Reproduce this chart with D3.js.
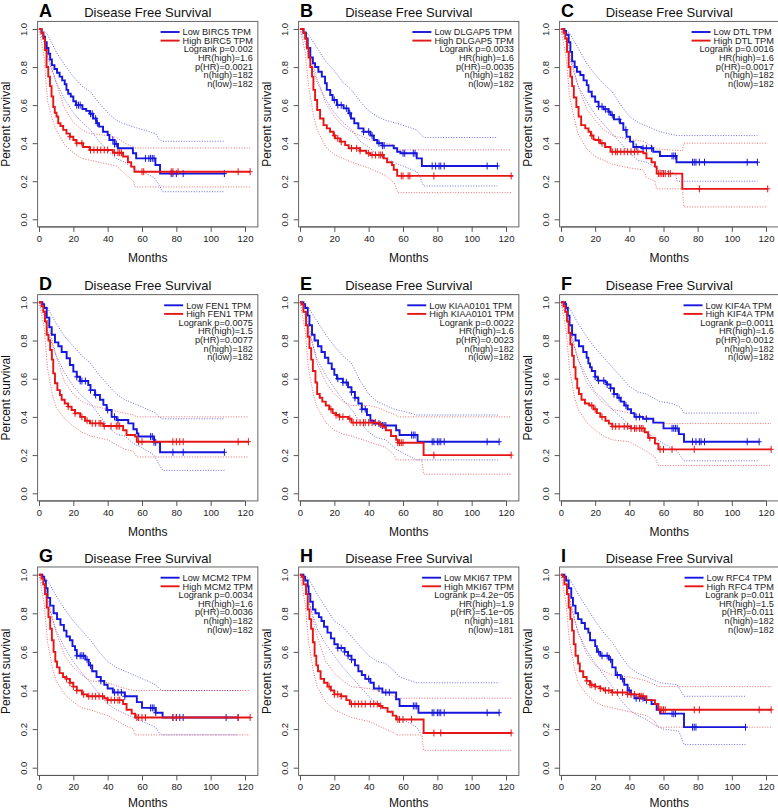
<!DOCTYPE html>
<html><head><meta charset="utf-8">
<script src="https://cdn.jsdelivr.net/npm/d3@7"></script>
<style>body{margin:0;background:#fff}svg{display:block}text{font-family:"Liberation Sans",Arial,sans-serif}</style>
</head><body><svg id="c" width="778" height="811"></svg>
<script>
const panelLetters = ["A","B","C","D","E","F","G","H","I"];
const genes = ["BIRC5","DLGAP5","DTL","FEN1","KIAA0101","KIF4A","MCM2","MKI67","RFC4"];
const logrankP = ["0.002","0.0033","0.0016","0.0075","0.0022","0.0011","0.0034","4.2e\u221205","0.011"];
const hrHigh = ["1.6","1.6","1.6","1.5","1.6","1.6","1.6","1.9","1.5"];
const pHR = ["0.0021","0.0035","0.0017","0.0077","0.0023","0.0012","0.0036","5.1e\u221205","0.011"];
const nHigh = [182,182,182,182,182,182,182,181,182];
const nLow = [182,182,182,182,182,182,182,181,182];
const xTicks = [0,20,40,60,80,100,120];
const yTicks = [0,0.2,0.4,0.6,0.8,1.0];

// Kaplan-Meier steps [month, survival] for the low-expression (blue) group
const lowCurves = [
 [[0,1],[1.5,0.98],[2.5,0.96],[3.5,0.93],[4.5,0.90],[5.5,0.87],[6.5,0.84],[7.5,0.81],[9,0.79],[10.5,0.77],[12,0.75],[13.5,0.73],[15,0.71],[16,0.68],[17,0.66],[18.5,0.645],[20,0.62],[21.5,0.60],[25.3,0.58],[27.5,0.57],[29.5,0.555],[31.5,0.53],[33.4,0.505],[35,0.487],[37.3,0.46],[40,0.443],[41,0.417],[44,0.396],[46,0.373],[54.7,0.347],[56.6,0.32],[67.8,0.285],[70.5,0.24],[108,0.24]],
 [[0,1],[2,0.98],[3.5,0.95],[4.5,0.90],[6,0.85],[7.5,0.82],[8.8,0.80],[10.7,0.775],[12.7,0.75],[14.6,0.715],[15.6,0.68],[17.6,0.653],[19,0.627],[21.5,0.60],[25.4,0.583],[28.3,0.557],[29.7,0.53],[31.6,0.505],[34,0.478],[37,0.46],[41,0.44],[43,0.417],[45,0.40],[48,0.387],[54.6,0.373],[56.6,0.355],[58.5,0.347],[68,0.32],[71,0.28],[115,0.28]],
 [[0,1],[2,0.99],[3,0.97],[4.5,0.93],[5.5,0.88],[6.5,0.83],[8,0.80],[9.3,0.775],[11.3,0.758],[13.2,0.73],[15.1,0.705],[16.1,0.67],[18,0.645],[20,0.618],[22,0.592],[24.9,0.578],[27.8,0.565],[29,0.548],[31,0.525],[34.6,0.505],[36.5,0.47],[38.4,0.434],[40.4,0.408],[42.3,0.38],[47.2,0.373],[54,0.355],[57.9,0.333],[67.6,0.30],[115,0.30]],
 [[0,1],[2,0.99],[3,0.97],[4.5,0.92],[6,0.87],[7.4,0.83],[9.3,0.79],[11.3,0.77],[13.2,0.74],[16.1,0.707],[18,0.672],[20,0.637],[22,0.61],[23.9,0.588],[28.7,0.567],[30,0.54],[32.6,0.515],[35.5,0.49],[37.5,0.463],[39.4,0.436],[42.3,0.40],[45.2,0.384],[52,0.366],[55,0.335],[57,0.314],[57.9,0.297],[67,0.267],[70.5,0.215],[108,0.215]],
 [[0,1],[2,0.99],[3,0.97],[4.5,0.93],[5.5,0.88],[7,0.83],[8.5,0.80],[10.5,0.77],[12.5,0.74],[14.5,0.71],[16.5,0.68],[18.5,0.65],[20,0.62],[21.5,0.60],[25,0.58],[28,0.555],[30,0.53],[32,0.50],[34,0.47],[36,0.44],[39,0.41],[41,0.38],[43,0.365],[48,0.355],[56,0.33],[58,0.305],[68.5,0.27],[116,0.27]],
 [[0,1],[2.5,0.99],[3,0.97],[4,0.93],[5,0.88],[6.5,0.83],[8.5,0.80],[10.5,0.77],[13,0.74],[15,0.71],[16,0.68],[17,0.66],[18,0.64],[20,0.61],[21.5,0.59],[26,0.58],[27,0.57],[29,0.55],[31,0.52],[33,0.50],[35,0.48],[37,0.46],[39,0.44],[41,0.42],[43,0.40],[48,0.39],[54,0.37],[60,0.34],[69,0.31],[72,0.27],[116,0.27]],
 [[0,1],[2,0.99],[3,0.97],[4,0.93],[5,0.88],[6.5,0.84],[8.5,0.80],[10.5,0.77],[12.5,0.74],[14.5,0.71],[16,0.68],[18,0.66],[19.5,0.63],[21,0.61],[22,0.58],[27,0.56],[29,0.53],[31,0.50],[33.5,0.47],[36,0.45],[38,0.43],[40,0.41],[43,0.39],[50,0.37],[57,0.34],[60,0.31],[68,0.285],[72,0.26],[116,0.26]],
 [[0,1],[2,0.99],[3,0.97],[4.5,0.94],[5,0.90],[6,0.86],[7.5,0.82],[9,0.80],[11,0.78],[12.5,0.76],[14,0.73],[16,0.70],[18,0.67],[20,0.64],[22,0.62],[26,0.60],[28,0.58],[30,0.56],[32,0.53],[34,0.50],[36,0.48],[38,0.46],[41,0.44],[43,0.41],[48,0.39],[56,0.355],[58,0.32],[69,0.285],[116,0.285]],
 [[0,1],[2,0.99],[3,0.97],[4.5,0.93],[6,0.88],[7,0.84],[8.5,0.80],[10,0.77],[12,0.75],[14,0.72],[16,0.70],[17,0.66],[20,0.63],[21,0.60],[23,0.58],[28,0.56],[30,0.52],[32,0.48],[35,0.46],[37,0.43],[39,0.40],[41,0.38],[43,0.36],[49,0.35],[53,0.33],[56,0.30],[58,0.28],[72,0.21],[108,0.21]]
];
// Kaplan-Meier steps for the high-expression (red) group
const highCurves = [
 [[0,1],[1.5,0.98],[2.5,0.95],[3.5,0.89],[4.4,0.80],[5.4,0.75],[6.4,0.70],[7.3,0.645],[8.3,0.59],[9.2,0.56],[10.2,0.54],[11.2,0.505],[12.5,0.49],[14.1,0.47],[16,0.45],[18,0.434],[20,0.417],[21.8,0.40],[25.7,0.38],[29.5,0.364],[43,0.35],[49,0.33],[51.8,0.30],[53.7,0.277],[55.6,0.25],[123,0.25]],
 [[0,1],[2,0.98],[3,0.95],[4,0.90],[5,0.85],[6,0.80],[7,0.75],[7.8,0.68],[8.8,0.627],[10,0.574],[11.7,0.53],[13.7,0.495],[15.6,0.478],[17.5,0.46],[19.5,0.44],[20.5,0.425],[23.4,0.408],[26.3,0.39],[28.3,0.373],[35,0.36],[38.6,0.347],[41,0.338],[48.8,0.32],[50.7,0.30],[53.6,0.285],[54.6,0.26],[56.6,0.228],[124,0.228]],
 [[0,1],[1.5,0.98],[2.5,0.95],[3.5,0.88],[4.5,0.80],[5.5,0.75],[6.5,0.70],[7.5,0.64],[9,0.59],[10.3,0.54],[11.8,0.495],[14.2,0.478],[16.1,0.46],[17.5,0.44],[19,0.42],[20,0.417],[22.9,0.40],[25.8,0.38],[29,0.355],[48.2,0.347],[50,0.32],[53,0.30],[55,0.277],[56,0.24],[71,0.16],[121,0.16]],
 [[0,1],[1.5,0.98],[2.5,0.95],[3.5,0.90],[4.5,0.83],[5.5,0.80],[6.5,0.75],[7.5,0.70],[8.3,0.628],[9.3,0.576],[10.7,0.54],[12.2,0.515],[13.2,0.49],[15,0.47],[17,0.454],[19,0.436],[21,0.419],[24,0.40],[26.8,0.38],[29.7,0.366],[37.5,0.352],[49,0.33],[51,0.305],[56,0.297],[57,0.27],[122,0.27]],
 [[0,1],[1,0.99],[2,0.95],[3.5,0.88],[4.5,0.82],[5.5,0.76],[6.5,0.70],[7.5,0.64],[9,0.58],[10,0.52],[11.5,0.50],[13,0.48],[15,0.46],[17,0.44],[19,0.42],[21,0.41],[23,0.40],[28,0.39],[30,0.37],[46,0.36],[48,0.35],[50,0.33],[53,0.30],[56,0.28],[57,0.265],[72,0.20],[123,0.20]],
 [[0,1],[1.5,0.98],[2.5,0.95],[3.5,0.90],[4.5,0.84],[5.5,0.78],[6.5,0.72],[7.5,0.66],[8.5,0.60],[9.5,0.55],[10.5,0.52],[12,0.49],[14,0.47],[16.5,0.46],[19,0.44],[21,0.42],[23,0.40],[26,0.38],[28,0.365],[30,0.35],[41,0.34],[49,0.32],[51,0.29],[55,0.26],[57,0.23],[123,0.23]],
 [[0,1],[1.5,0.98],[2.5,0.95],[3.5,0.90],[4.5,0.83],[5.5,0.78],[6.5,0.72],[7.5,0.66],[8.5,0.60],[9.5,0.55],[10.5,0.52],[12,0.49],[14,0.47],[16,0.46],[18,0.44],[20,0.42],[22,0.40],[25,0.38],[28,0.37],[38,0.36],[40,0.35],[49,0.33],[51,0.30],[54,0.28],[56,0.26],[123,0.26]],
 [[0,1],[1,0.99],[2,0.95],[3.5,0.90],[4.5,0.82],[5.5,0.77],[6.5,0.72],[7.5,0.65],[8.5,0.58],[9.5,0.53],[10.5,0.50],[12,0.46],[14,0.44],[16,0.42],[18,0.40],[20,0.38],[24,0.37],[27,0.35],[29,0.33],[46,0.32],[48,0.31],[51,0.29],[54,0.27],[56,0.25],[72,0.18],[123,0.18]],
 [[0,1],[1,0.99],[2,0.95],[3.5,0.90],[4.5,0.83],[5.5,0.77],[6.5,0.71],[7.5,0.64],[8.5,0.58],[10,0.54],[11,0.50],[13,0.47],[15,0.45],[17,0.43],[20,0.42],[23,0.41],[25,0.40],[30,0.39],[39,0.38],[46,0.37],[50,0.35],[55,0.33],[57,0.30],[123,0.30]]
];
// 95% confidence bands (dotted)
const lowUpper = [
 [[0,1],[3,0.99],[5,0.97],[10,0.88],[15,0.81],[20,0.75],[25,0.70],[30,0.67],[35,0.61],[40,0.56],[45,0.52],[50,0.50],[57,0.48],[68,0.45],[70,0.42],[72,0.41],[108,0.41]],
 [[0,1],[3,0.99],[5,0.97],[10,0.90],[15,0.83],[20,0.78],[25,0.72],[30,0.68],[35,0.62],[40,0.57],[45,0.54],[50,0.52],[58,0.50],[68,0.47],[72,0.43],[115,0.43]],
 [[0,1],[3,0.99],[5,0.98],[10,0.90],[15,0.82],[20,0.76],[25,0.71],[30,0.67],[35,0.60],[40,0.54],[45,0.51],[50,0.49],[58,0.46],[68,0.44],[115,0.44]],
 [[0,1],[3,0.99],[5,0.97],[10,0.89],[15,0.82],[20,0.77],[25,0.72],[30,0.68],[35,0.62],[40,0.57],[45,0.52],[50,0.49],[58,0.46],[68,0.42],[70,0.40],[72,0.39],[108,0.39]],
 [[0,1],[3,0.99],[5,0.97],[10,0.90],[15,0.83],[20,0.77],[25,0.72],[30,0.68],[35,0.59],[40,0.52],[45,0.48],[50,0.46],[55,0.44],[60,0.43],[68,0.41],[116,0.41]],
 [[0,1],[3,0.99],[5,0.97],[10,0.89],[15,0.82],[20,0.76],[25,0.71],[30,0.66],[35,0.61],[40,0.56],[45,0.53],[50,0.52],[58,0.48],[65,0.47],[70,0.45],[72,0.42],[116,0.42]],
 [[0,1],[3,0.99],[5,0.97],[10,0.89],[15,0.82],[20,0.76],[25,0.71],[30,0.66],[35,0.60],[40,0.55],[45,0.52],[50,0.50],[58,0.47],[68,0.43],[70,0.41],[72,0.40],[116,0.40]],
 [[0,1],[3,0.99],[5,0.98],[10,0.90],[15,0.83],[20,0.76],[25,0.73],[30,0.68],[35,0.63],[40,0.58],[45,0.55],[50,0.54],[55,0.50],[58,0.47],[68,0.44],[116,0.44]],
 [[0,1],[3,0.99],[5,0.98],[10,0.90],[15,0.83],[20,0.76],[25,0.70],[30,0.65],[35,0.58],[40,0.52],[45,0.49],[50,0.47],[58,0.44],[68,0.43],[70,0.40],[72,0.37],[108,0.37]]
];
const lowLower = [
 [[0,1],[3,0.93],[5,0.85],[10,0.72],[15,0.63],[20,0.56],[25,0.51],[30,0.47],[35,0.41],[40,0.36],[45,0.32],[50,0.30],[56,0.26],[60,0.25],[67,0.22],[70,0.18],[72,0.145],[108,0.145]],
 [[0,1],[3,0.93],[5,0.86],[10,0.72],[15,0.63],[20,0.56],[25,0.51],[30,0.47],[35,0.41],[40,0.38],[45,0.34],[50,0.32],[57,0.29],[60,0.28],[68,0.25],[70,0.22],[72,0.175],[115,0.175]],
 [[0,1],[3,0.93],[5,0.85],[10,0.70],[15,0.62],[20,0.55],[25,0.50],[30,0.45],[35,0.40],[40,0.35],[45,0.31],[50,0.30],[58,0.26],[67,0.24],[68,0.20],[115,0.20]],
 [[0,1],[3,0.93],[5,0.85],[10,0.72],[15,0.63],[20,0.56],[25,0.51],[30,0.47],[35,0.41],[40,0.35],[45,0.31],[50,0.30],[55,0.26],[60,0.24],[67,0.20],[70,0.15],[72,0.12],[108,0.12]],
 [[0,1],[3,0.93],[5,0.85],[10,0.70],[15,0.62],[20,0.55],[25,0.49],[30,0.44],[35,0.37],[40,0.32],[45,0.29],[50,0.28],[56,0.23],[60,0.21],[68,0.175],[116,0.175]],
 [[0,1],[3,0.93],[5,0.85],[10,0.70],[15,0.61],[20,0.53],[25,0.49],[30,0.44],[35,0.40],[40,0.36],[45,0.33],[50,0.32],[55,0.29],[60,0.26],[68,0.22],[72,0.17],[116,0.17]],
 [[0,1],[3,0.93],[5,0.85],[10,0.71],[15,0.62],[20,0.55],[25,0.49],[30,0.44],[35,0.38],[40,0.33],[45,0.30],[50,0.28],[55,0.26],[60,0.24],[68,0.21],[70,0.18],[72,0.17],[116,0.17]],
 [[0,1],[3,0.94],[5,0.86],[10,0.72],[15,0.64],[20,0.58],[25,0.52],[30,0.47],[35,0.42],[40,0.37],[45,0.33],[50,0.30],[55,0.27],[60,0.25],[68,0.21],[70,0.18],[116,0.18]],
 [[0,1],[3,0.94],[5,0.86],[10,0.70],[15,0.61],[20,0.54],[25,0.48],[30,0.42],[35,0.35],[40,0.30],[45,0.27],[50,0.25],[55,0.22],[60,0.20],[69,0.19],[72,0.12],[108,0.12]]
];
const highUpper = [
 [[0,1],[3,0.97],[5,0.87],[8,0.78],[10,0.72],[15,0.58],[20,0.51],[25,0.47],[30,0.45],[40,0.44],[45,0.43],[50,0.40],[55,0.38],[56,0.375],[123,0.375]],
 [[0,1],[3,0.98],[5,0.90],[8,0.80],[10,0.74],[15,0.61],[20,0.54],[25,0.49],[30,0.46],[40,0.42],[50,0.40],[55,0.39],[57,0.365],[123,0.365]],
 [[0,1],[3,0.97],[5,0.88],[8,0.77],[10,0.70],[15,0.58],[20,0.52],[25,0.47],[30,0.44],[40,0.42],[48,0.41],[50,0.40],[56,0.37],[71,0.36],[72,0.40],[121,0.40]],
 [[0,1],[3,0.98],[5,0.90],[8,0.79],[10,0.72],[15,0.58],[20,0.52],[25,0.48],[30,0.46],[40,0.44],[50,0.42],[55,0.41],[57,0.40],[122,0.40]],
 [[0,1],[3,0.97],[5,0.88],[8,0.76],[10,0.68],[15,0.58],[20,0.52],[25,0.48],[30,0.46],[40,0.46],[45,0.45],[50,0.43],[56,0.41],[57,0.40],[123,0.40]],
 [[0,1],[3,0.97],[5,0.88],[8,0.77],[10,0.70],[15,0.58],[20,0.52],[25,0.47],[30,0.44],[40,0.42],[50,0.40],[55,0.38],[57,0.365],[123,0.365]],
 [[0,1],[3,0.97],[5,0.88],[8,0.77],[10,0.70],[15,0.58],[20,0.52],[25,0.48],[30,0.45],[40,0.44],[50,0.41],[55,0.40],[123,0.40]],
 [[0,1],[3,0.97],[5,0.88],[8,0.75],[10,0.68],[15,0.55],[20,0.49],[25,0.45],[30,0.42],[40,0.41],[50,0.39],[55,0.37],[56,0.36],[123,0.36]],
 [[0,1],[3,0.97],[5,0.88],[8,0.77],[10,0.70],[15,0.59],[20,0.53],[25,0.50],[30,0.48],[40,0.47],[50,0.45],[55,0.43],[57,0.42],[123,0.42]]
];
const highLower = [
 [[0,1],[3,0.85],[5,0.62],[8,0.52],[10,0.47],[15,0.39],[20,0.35],[25,0.32],[30,0.31],[40,0.29],[45,0.28],[50,0.24],[55,0.20],[56,0.17],[123,0.17]],
 [[0,1],[3,0.88],[5,0.70],[8,0.54],[10,0.47],[15,0.38],[20,0.34],[25,0.32],[30,0.30],[40,0.27],[50,0.23],[55,0.19],[57,0.14],[123,0.14]],
 [[0,1],[3,0.85],[5,0.65],[8,0.52],[10,0.45],[15,0.37],[20,0.33],[25,0.31],[30,0.29],[40,0.27],[48,0.26],[50,0.22],[55,0.20],[56,0.16],[71,0.16],[72,0.065],[121,0.065]],
 [[0,1],[3,0.87],[5,0.65],[8,0.51],[10,0.45],[15,0.39],[20,0.35],[25,0.32],[30,0.30],[40,0.28],[50,0.23],[55,0.22],[57,0.19],[122,0.19]],
 [[0,1],[3,0.85],[5,0.65],[8,0.51],[10,0.45],[15,0.37],[20,0.33],[25,0.31],[30,0.30],[40,0.27],[50,0.24],[55,0.20],[56,0.175],[71,0.175],[72,0.10],[123,0.10]],
 [[0,1],[3,0.85],[5,0.65],[8,0.50],[10,0.44],[15,0.37],[20,0.33],[25,0.30],[30,0.28],[40,0.27],[50,0.22],[55,0.19],[57,0.145],[123,0.145]],
 [[0,1],[3,0.85],[5,0.65],[8,0.51],[10,0.45],[15,0.38],[20,0.34],[25,0.31],[30,0.30],[40,0.27],[50,0.22],[55,0.20],[56,0.17],[123,0.17]],
 [[0,1],[3,0.85],[5,0.65],[8,0.49],[10,0.42],[15,0.34],[20,0.30],[25,0.28],[30,0.26],[40,0.24],[50,0.20],[55,0.18],[56,0.17],[71,0.17],[72,0.09],[123,0.09]],
 [[0,1],[3,0.85],[5,0.65],[8,0.51],[10,0.44],[15,0.38],[20,0.34],[25,0.32],[30,0.31],[40,0.29],[50,0.27],[55,0.24],[57,0.21],[123,0.21]]
];
// censoring times (months)
const lowCensored = [
 [22,23,24,30,31,33,34,43,44,45,62,64,65,66,67,77,78,80,84,108],
 [20,22,24,27,29,37,40,42,46,48,49,60,61,66,67,77,79,81,82,84,109,115],
 [22,24,26,28,30,34,38,44,48,50,53,65,66,67,77,78,79,81,84,109,115],
 [22,24,25,27,30,33,40,44,46,65,66,67,68,78,84,108],
 [22,25,27,30,32,36,38,46,48,49,50,65,66,67,77,78,80,81,82,84,109,116],
 [20,22,25,27,29,31,34,38,44,46,50,65,66,67,68,77,79,81,82,84,109,116],
 [22,24,25,26,28,30,36,44,46,48,50,65,66,67,68,78,80,82,84,109,116],
 [22,24,26,28,30,40,46,50,52,66,67,68,77,78,80,81,82,84,109,116],
 [22,24,27,29,33,36,40,44,46,48,50,65,66,67,77,78,79,108]
];
const highCensored = [
 [18,22,25,30,32,34,36,38,40,44,46,47,48,60,61,77,78,81,116,123],
 [20,22,24,30,33,35,40,42,44,46,47,48,59,60,63,64,78,123],
 [18,22,24,30,32,33,35,37,39,41,43,45,57,58,59,60,61,63,64,81,121],
 [17,21,25,28,31,33,35,36,38,42,45,46,47,58,60,78,80,82,84,116,122],
 [18,21,23,25,29,31,33,35,37,38,40,42,44,47,57,58,59,60,78,123],
 [18,20,24,30,32,34,37,39,41,43,44,46,47,48,52,58,60,65,78,123],
 [16,18,20,22,26,29,31,33,35,37,40,42,44,46,47,57,58,60,62,78,80,116,123],
 [17,20,22,24,30,32,34,36,38,41,43,45,47,57,58,60,65,78,82,123],
 [15,17,18,20,23,26,28,30,33,36,39,41,43,46,47,48,58,59,60,61,78,81,116,123]
];

const BLUE = "#1616dc", RED = "#e61616";
const colX0 = [39, 300, 561], colX120 = [245, 506, 766];
const rowY1 = [29, 302.3, 574.7], rowY0 = [219.3, 493.3, 767.7];
const monthsOffset = [35, 35, 32];
const svg = d3.select("#c");
svg.append("defs").append("clipPath").attr("id","clipE").append("rect")
   .attr("x",267).attr("y",260).attr("width",60).attr("height",280);

function stepAt(curve, t){ let v = curve[0][1]; for (const p of curve){ if (p[0] <= t) v = p[1]; } return v; }

panelLetters.forEach((L, i) => {
  const c = i % 3, r = Math.floor(i / 3);
  const x = d3.scaleLinear().domain([0, 120]).range([colX0[c], colX120[c]]);
  const y = d3.scaleLinear().domain([0, 1]).range([rowY0[r], rowY1[r]]);
  const g = svg.append("g");
  const bx0 = x(-0.8), bx1 = x(127.5), by0 = y(1.04), by1 = y(-0.04);

  // axes
  const xa = d3.axisBottom(x).tickValues(xTicks).tickSize(5).tickPadding(3).tickFormat(d3.format("d"));
  const xg = g.append("g").attr("transform", `translate(0,${by1})`).call(xa);
  xg.select(".domain").attr("d", `M${x(0)},0H${x(120)}`).attr("stroke","#555");
  xg.selectAll(".tick line").attr("stroke","#555");
  xg.selectAll("text").attr("font-size", 9.5).attr("fill","#222").attr("font-family","Liberation Sans, Arial, sans-serif");
  const ya = d3.axisLeft(y).tickValues(yTicks).tickSize(5).tickFormat(d3.format(".1f"));
  const yg = g.append("g").attr("transform", `translate(${bx0},0)`).call(ya);
  yg.select(".domain").remove();
  yg.selectAll(".tick line").attr("stroke","#555");
  yg.selectAll("text").attr("font-size", 9.5).attr("fill","#222").attr("font-family","Liberation Sans, Arial, sans-serif")
    .attr("x", 0).attr("y", -11).attr("dy", 0).attr("text-anchor", "middle").attr("transform", "rotate(-90)");

  // box
  g.append("rect").attr("x", bx0).attr("y", by0).attr("width", bx1 - bx0).attr("height", by1 - by0)
    .attr("fill", "none").attr("stroke", "#555").attr("stroke-width", 0.9);

  // labels
  g.append("text").attr("x", (bx0 + bx1) / 2).attr("y", by1 + monthsOffset[r]).attr("text-anchor", "middle")
    .attr("font-size", 12).attr("fill", "#111").text("Months");
  const yl = g.append("text").attr("transform", `translate(${bx0 - 27.5},${(by0 + by1) / 2}) rotate(-90)`)
    .attr("text-anchor", "middle").attr("font-size", 12).attr("fill", "#111").text("Percent survival");
  g.append("text").attr("x", (bx0 + bx1) / 2).attr("y", rowY1[r] - 12).attr("text-anchor", "middle")
    .attr("font-size", 13).attr("fill", "#111").text("Disease Free Survival");
  g.append("text").attr("x", colX0[c]).attr("y", rowY1[r] - 12.3).attr("font-size", 18).attr("font-weight", "bold")
    .attr("fill", "#000").text(L);

  // confidence bands
  const lin = d3.line().x(d => x(d[0])).y(d => y(d[1]));
  [[lowUpper[i], BLUE], [lowLower[i], BLUE], [highUpper[i], RED], [highLower[i], RED]].forEach(([d, col]) => {
    g.append("path").attr("d", lin(d)).attr("fill", "none").attr("stroke", col).attr("stroke-width", 0.9)
      .attr("stroke-dasharray", "1,1.6").attr("opacity", 0.7);
  });
  // survival curves
  const step = d3.line().x(d => x(d[0])).y(d => y(d[1])).curve(d3.curveStepAfter);
  [[lowCurves[i], lowCensored[i], BLUE], [highCurves[i], highCensored[i], RED]].forEach(([d, cens, col]) => {
    g.append("path").attr("d", step(d)).attr("fill", "none").attr("stroke", col).attr("stroke-width", 1.9);
    g.selectAll(null).data(cens).enter().append("path")
      .attr("d", t => `M${x(t)},${y(stepAt(d, t)) - 3.5}v7M${x(t) - 2.5},${y(stepAt(d, t))}h5`)
      .attr("stroke", col).attr("stroke-width", 1).attr("fill", "none");
  });

  // legend
  const legTexts = [`Low ${genes[i]} TPM`, `High ${genes[i]} TPM`];
  const rowH = 8.6, base0 = rowY1[r] + 6.2, fs = 9.2, right = bx1 - 5;
  const tmp = g.append("text").attr("font-size", fs).text(legTexts[1]);
  const w1 = tmp.node().getComputedTextLength();
  tmp.text(legTexts[0]);
  const wMax = Math.max(w1, tmp.node().getComputedTextLength());
  tmp.remove();
  const tx = right - wMax;
  legTexts.forEach((t, k) => {
    g.append("line").attr("x1", tx - 22).attr("x2", tx - 3).attr("y1", base0 + k * rowH - 3.2).attr("y2", base0 + k * rowH - 3.2)
      .attr("stroke", k ? RED : BLUE).attr("stroke-width", 1.9);
    g.append("text").attr("x", tx).attr("y", base0 + k * rowH).attr("font-size", fs).attr("fill", "#222").text(t);
  });
  [`Logrank p=${logrankP[i]}`, `HR(high)=${hrHigh[i]}`, `p(HR)=${pHR[i]}`, `n(high)=${nHigh[i]}`, `n(low)=${nLow[i]}`]
    .forEach((t, k) => {
      g.append("text").attr("x", right).attr("y", base0 + (k + 2) * rowH).attr("text-anchor", "end")
        .attr("font-size", fs).attr("fill", "#222").text(t);
    });
  if (L === "E") yl.attr("clip-path", "url(#clipE)");
});
</script></body></html>
